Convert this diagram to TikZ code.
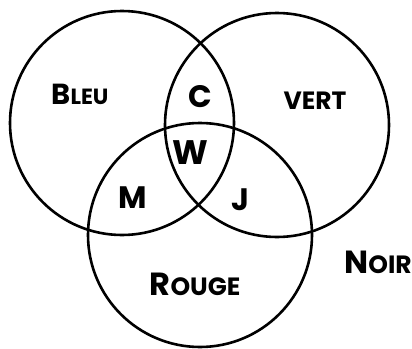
\documentclass[tikz,border=0pt]{standalone}
\usepackage{fontspec}
\setmainfont{Poppins}
\newcommand\capsw[4]{{\fontsize{#1}{#1}\selectfont #3}{\fontsize{#2}{#2}\selectfont #4}}
\begin{document}
\begin{tikzpicture}[x=1pt,y=-1pt,
  ring/.style={draw=black,line width=2.6pt,circle,minimum size=224pt,inner sep=0pt},
  lab/.style={font=\bfseries,inner sep=0pt,text=black}]
\useasboundingbox (0,0) rectangle (412,348);
\node[ring] (bleu) at (122,123) {};
\node[ring] (vert) at (277,125) {};
\node[ring] (rouge) at (200,235) {};
\node[lab] (tb) at (80,94) {\capsw{29}{22}{B}{LEU}};
\node[lab] (tv) at (315,101) {\capsw{25}{25}{}{VERT}};
\node[lab] (tc) at (200,97) {\capsw{31}{31}{C}{}};
\node[lab] (tw) at (190,153) {\capsw{34}{34}{W}{}};
\node[lab] (tm) at (133,198) {\capsw{31}{31}{M}{}};
\node[lab] (tj) at (240,200) {\capsw{31}{31}{J}{}};
\node[lab] (tr) at (195,284) {\capsw{32}{25}{R}{OUGE}};
\node[lab] (tn) at (378,262) {\capsw{32}{25}{N}{OIR}};
\end{tikzpicture}
\end{document}
